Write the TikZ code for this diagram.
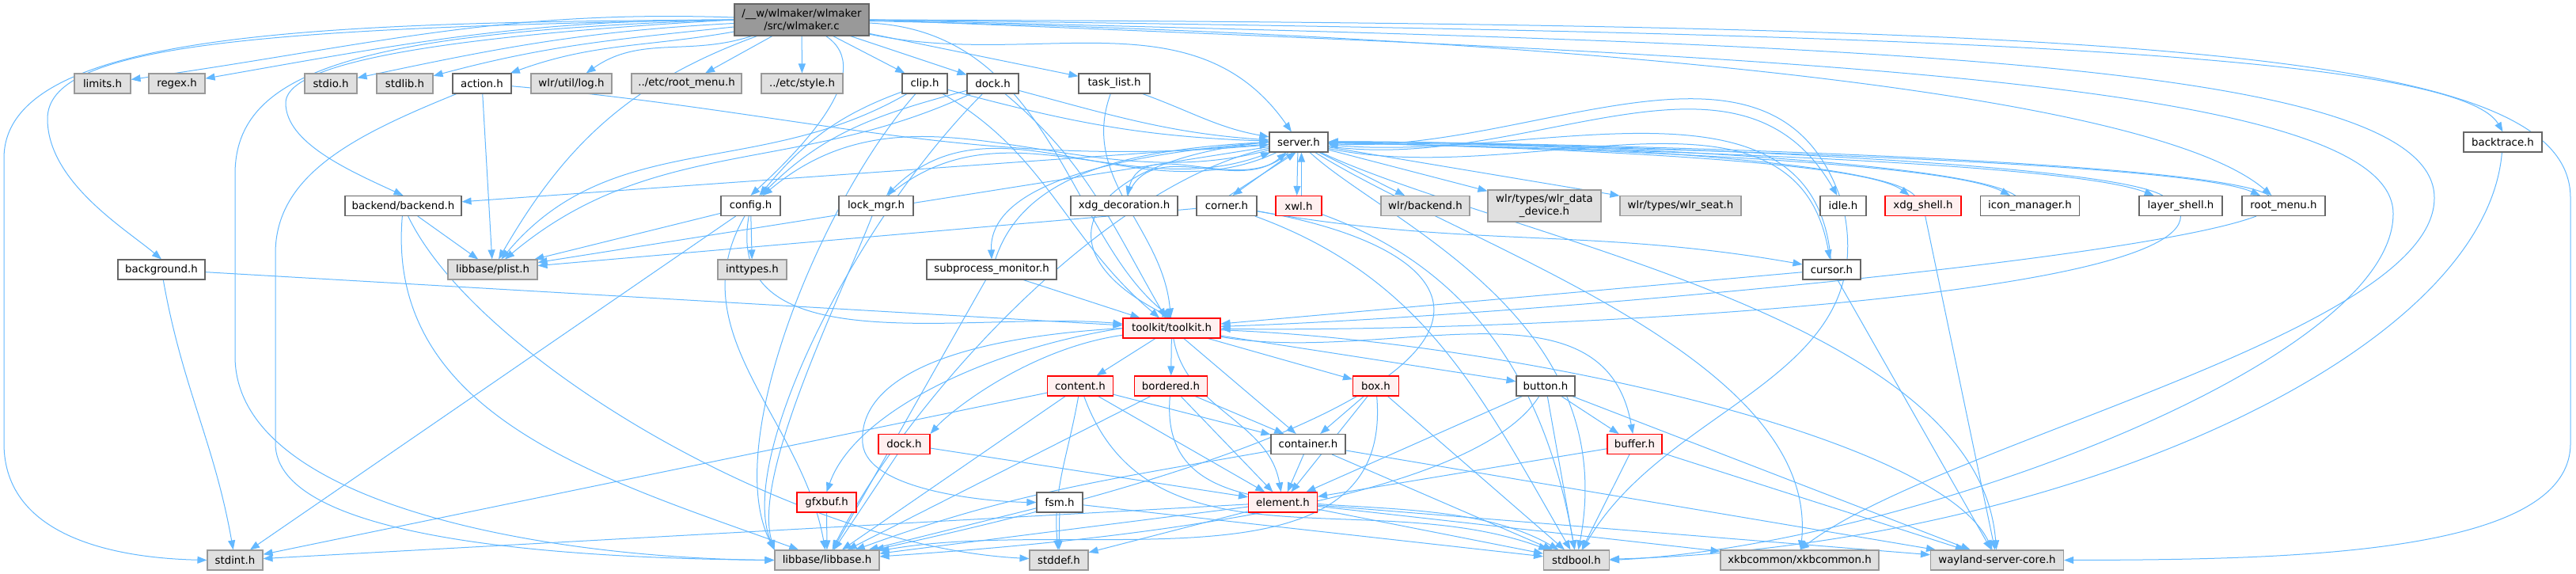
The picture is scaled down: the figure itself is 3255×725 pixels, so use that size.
\documentclass[tikz,border=0pt]{standalone}
\usepackage{fontspec}
\newfontfamily\dxf{DejaVu Sans}
\usetikzlibrary{arrows.meta}
\definecolor{edgec}{HTML}{63B8FF}
\definecolor{gfill}{HTML}{E0E0E0}
\definecolor{gdraw}{HTML}{999999}
\definecolor{wdraw}{HTML}{666666}
\definecolor{rfill}{HTML}{FFF0F0}
\definecolor{rdraw}{HTML}{FF0000}
\definecolor{rootfill}{HTML}{999999}
\pgfdeclarelayer{bg}
\pgfsetlayers{bg,main}
\begin{document}
\begin{tikzpicture}[x=1pt,y=1pt,
  nb/.style={draw, line width=1.1pt, minimum height=25pt, inner sep=0pt, font=\dxf\fontsize{13.33}{16}\selectfont, text=black},
  ng/.style={nb, fill=gfill, draw=gdraw},
  nw/.style={nb, fill=white, draw=wdraw},
  nr/.style={nb, fill=rfill, draw=rdraw},
  nroot/.style={nb, fill=rootfill, draw=wdraw, align=center, minimum height=40pt},
  dep/.style={draw=edgec, line width=1pt, -{Triangle[length=12pt,width=9pt]}},
]
\useasboundingbox (0,0) rectangle (3255,-725);

% ---------- nodes ----------
\node[nroot, minimum width=170pt] (R) at (1013,-25) {/\_\_w/wlmaker/wlmaker\\/src/wlmaker.c};

\node[ng, minimum width=71pt] (limits) at (129.5,-105.5) {limits.h};
\node[ng, minimum width=71pt] (regex) at (223.5,-105.5) {regex.h};
\node[ng, minimum width=66pt] (stdio) at (418,-105.5) {stdio.h};
\node[ng, minimum width=71pt] (stdlib) at (511.5,-105.5) {stdlib.h};
\node[nw, minimum width=74pt] (action) at (609,-105.5) {action.h};
\node[ng, minimum width=102pt] (wlrlog) at (722,-105.5) {wlr/util/log.h};
\node[ng, minimum width=139pt] (etcroot) at (867.5,-105.5) {../etc/root\_menu.h};
\node[ng, minimum width=103pt] (etcstyle) at (1013.5,-105.5) {../etc/style.h};
\node[nw, minimum width=57pt] (clip) at (1168.5,-105.5) {clip.h};
\node[nw, minimum width=65pt] (dock) at (1254.5,-105.5) {dock.h};
\node[nw, minimum width=90pt] (tasklist) at (1408,-105.5) {task\_list.h};

\node[nw, minimum width=74pt] (server) at (1641,-179.5) {server.h};
\node[nw, minimum width=99pt] (backtrace) at (3162.5,-179.5) {backtrace.h};

\node[nw, minimum width=147pt] (backend) at (509.5,-260) {backend/backend.h};
\node[nw, minimum width=75pt] (config) at (948.5,-260) {config.h};
\node[nw, minimum width=94pt] (lockmgr) at (1107,-260) {lock\_mgr.h};
\node[nw, minimum width=135pt] (xdgdeco) at (1420.5,-260) {xdg\_decoration.h};
\node[nw, minimum width=76pt] (corner) at (1550,-260) {corner.h};
\node[nr, minimum width=58pt] (xwl) at (1641,-260) {xwl.h};
\node[ng, minimum width=112pt] (wlrbackend) at (1801,-260) {wlr/backend.h};
\node[ng, minimum width=143pt, minimum height=40pt, align=center] (wlrdata) at (1951.5,-260) {wlr/types/wlr\_data\\\_device.h};
\node[ng, minimum width=153pt] (wlrseat) at (2123.5,-260) {wlr/types/wlr\_seat.h};
\node[nw, minimum width=58pt] (idle) at (2329,-260) {idle.h};
\node[nr, minimum width=96pt] (xdgshell) at (2430,-260) {xdg\_shell.h};
\node[nw, minimum width=125pt] (iconmgr) at (2565,-260) {icon\_manager.h};
\node[nw, minimum width=105pt] (layershell) at (2755.5,-260) {layer\_shell.h};
\node[nw, minimum width=105pt] (rootmenu) at (2885.5,-260) {root\_menu.h};

\node[nw, minimum width=110pt] (background) at (204,-340.5) {background.h};
\node[ng, minimum width=113pt] (plist) at (622.5,-340.5) {libbase/plist.h};
\node[ng, minimum width=87pt] (inttypes) at (950.5,-340.5) {inttypes.h};
\node[nw, minimum width=164pt] (subproc) at (1253,-340.5) {subprocess\_monitor.h};
\node[nw, minimum width=73pt] (cursor) at (2314.5,-340.5) {cursor.h};

\node[nr, minimum width=123pt] (toolkit) at (1480.5,-414.5) {toolkit/toolkit.h};

\node[nr, minimum width=83pt] (content) at (1365,-487.5) {content.h};
\node[nr, minimum width=92pt] (bordered) at (1479.5,-487.5) {bordered.h};
\node[nr, minimum width=58pt] (box) at (1738.5,-487.5) {box.h};
\node[nw, minimum width=74pt] (button) at (1953,-487.5) {button.h};

\node[nr, minimum width=65pt] (tkdock) at (1142.5,-561) {dock.h};
\node[nw, minimum width=94pt] (container) at (1653,-561) {container.h};
\node[nr, minimum width=69pt] (buffer) at (2065.5,-561) {buffer.h};

\node[nr, minimum width=75pt] (gfxbuf) at (1044.5,-634.5) {gfxbuf.h};
\node[nw, minimum width=58pt] (fsm) at (1339,-634.5) {fsm.h};
\node[nr, minimum width=87pt] (element) at (1621,-634.5) {element.h};

\node[ng, minimum width=70pt] (stdint) at (297,-707.5) {stdint.h};
\node[ng, minimum width=132pt] (libbase) at (1045,-707.5) {libbase/libbase.h};
\node[ng, minimum width=74pt] (stddef) at (1338,-707.5) {stddef.h};
\node[ng, minimum width=83pt] (stdbool) at (1992,-707.5) {stdbool.h};
\node[ng, minimum width=200pt] (xkb) at (2274,-707.5) {xkbcommon/xkbcommon.h};
\node[ng, minimum width=168pt] (wayland) at (2523.5,-707.5) {wayland-server-core.h};

% ---------- edges ----------
\begin{pgfonlayer}{bg}
% root
\draw[dep] (R) to[out=178,in=8] (limits);
\draw[dep] (R) to[out=180,in=10] (regex);
\draw[dep] (R) to[out=183,in=12] (stdio);
\draw[dep] (R) to[out=186,in=15] (stdlib);
\draw[dep] (R) to[out=190,in=20] (action);
\draw[dep] (R) to[out=198,in=35] (wlrlog);
\draw[dep] (R) -- (etcroot);
\draw[dep] (R) -- (etcstyle);
\draw[dep] (R) -- (clip);
\draw[dep] (R) -- (dock);
\draw[dep] (R) -- (tasklist);
\draw[dep] (R) to[out=-12,in=125] (server);
\draw[dep] (R.east) .. controls (2300,-40) and (3100,-60) .. (backtrace.north);
\draw[dep] (R) .. controls (1800,-40) and (2700,-100) .. (rootmenu);
\draw[dep] (R.east) .. controls (2700,-30) and (3248,-60) .. (3248,-250) -- (3248,-560) .. controls (3248,-700) and (2900,-707) .. (wayland.east);
\draw[dep] (R.east) .. controls (2300,-55) and (3076,-70) .. (3076,-250) .. controls (3076,-420) and (2450,-560) .. (xkb.north);
\draw[dep] (R.east) .. controls (2200,-70) and (3024,-95) .. (3024,-270) .. controls (3024,-460) and (2400,-690) .. (stdbool.east);
\draw[dep] (R.west) .. controls (400,-28) and (5,-40) .. (5,-200) -- (5,-560) .. controls (5,-680) and (150,-705) .. (stdint.west);
\draw[dep] (R.west) .. controls (300,-35) and (60,-60) .. (60,-150) .. controls (60,-230) and (160,-290) .. (background.north);
\draw[dep] (R.west) .. controls (450,-40) and (297,-90) .. (297,-220) -- (297,-450) .. controls (297,-640) and (700,-705) .. (libbase.west);
\draw[dep] (R.west) .. controls (480,-50) and (361,-90) .. (361,-130) .. controls (361,-180) and (440,-215) .. (backend.north);
\draw[dep] (R) to[out=200,in=60] (plist);
\draw[dep] (R) .. controls (1110,-90) and (1010,-190) .. (config.north);
\draw[dep] (R) .. controls (1330,-40) and (1350,-300) .. (toolkit.north);

% server outgoing
\draw[dep] (server) -- (backend);
\draw[dep] (server) -- (plist);
\draw[dep] (server) to[out=195,in=40] (config);
\draw[dep] (server) to[out=205,in=45] (lockmgr);
\draw[dep] (server) to[out=225,in=75] (xdgdeco);
\draw[dep] (server.240) -- (corner.60);
\draw[dep] (server.265) -- (xwl.100);
\draw[dep] (server) -- (wlrbackend);
\draw[dep] (server) -- (wlrdata);
\draw[dep] (server) -- (wlrseat);
\draw[dep] (server) to[out=-8,in=120] (idle);
\draw[dep] (server) .. controls (1900,-185) and (2350,-200) .. (xdgshell);
\draw[dep] (server) .. controls (1900,-185) and (2450,-200) .. (iconmgr);
\draw[dep] (server) .. controls (1900,-185) and (2600,-200) .. (layershell);
\draw[dep] (server) .. controls (1900,-182) and (2750,-200) .. (rootmenu);
\draw[dep] (server) to[out=-12,in=100] (cursor);
\draw[dep] (server.west) .. controls (1350,-200) and (1250,-250) .. (subproc.north);
\draw[dep] (server.west) .. controls (1380,-200) and (1300,-310) .. (toolkit.north);
\draw[dep] (server) .. controls (1400,-230) and (1150,-500) .. (libbase);
\draw[dep] (server) .. controls (1750,-280) and (2050,-400) .. (stdbool);
\draw[dep] (server) .. controls (1900,-300) and (2500,-400) .. (wayland);
\draw[dep] (server) .. controls (1850,-310) and (2300,-450) .. (xkb);

% server incoming
\draw[dep] (action) to[out=-5,in=185] (server);
\draw[dep] (clip) to[out=-15,in=178] (server);
\draw[dep] (dock) to[out=-15,in=176] (server);
\draw[dep] (tasklist) to[out=-20,in=170] (server);
\draw[dep] (lockmgr) to[out=40,in=200] (server);
\draw[dep] (xdgdeco) to[out=70,in=220] (server);
\draw[dep] (corner.75) -- (server.255);
\draw[dep] (xwl.75) -- (server.285);
\draw[dep] (subproc.70) .. controls (1290,-230) and (1400,-190) .. (server.west);
\draw[dep] (cursor) to[out=95,in=-5] (server);
\draw[dep] (idle) to[out=110,in=-3] (server);
\draw[dep] (xdgshell) .. controls (2380,-200) and (1900,-178) .. (server);
\draw[dep] (iconmgr) .. controls (2480,-200) and (1900,-178) .. (server);
\draw[dep] (layershell) .. controls (2650,-200) and (1900,-178) .. (server);
\draw[dep] (rootmenu) .. controls (2800,-200) and (1900,-178) .. (server);

% action, background, backend
\draw[dep] (action) -- (plist);
\draw[dep] (action) .. controls (450,-170) and (348,-220) .. (348,-320) -- (348,-560) .. controls (348,-680) and (700,-705) .. (libbase.west);
\draw[dep] (background) -- (toolkit);
\draw[dep] (background) to[out=-80,in=100] (stdint);
\draw[dep] (backend) -- (plist);
\draw[dep] (backend) to[out=-95,in=160] (libbase);
\draw[dep] (backend) .. controls (600,-450) and (1000,-690) .. (stddef);

% clip, dock, task list
\draw[dep] (clip) to[out=200,in=50] (config);
\draw[dep] (clip) to[out=210,in=50] (plist);
\draw[dep] (clip) .. controls (1040,-250) and (910,-560) .. (libbase.north west);
\draw[dep] (clip) to[out=-30,in=140] (toolkit);
\draw[dep] (dock) to[out=195,in=45] (config);
\draw[dep] (dock) to[out=205,in=40] (plist);
\draw[dep] (dock) .. controls (1080,-280) and (930,-580) .. (libbase.north west);
\draw[dep] (dock) to[out=-40,in=120] (toolkit);
\draw[dep] (tasklist) to[out=-110,in=95] (toolkit);

% config, lock, subproc
\draw[dep] (config) -- (inttypes);
\draw[dep] (config) -- (plist);
\draw[dep] (config) to[out=-120,in=100] (libbase);
\draw[dep] (config) to[out=-100,in=175] (toolkit);
\draw[dep] (config) -- (stdint);
\draw[dep] (lockmgr) .. controls (1060,-380) and (950,-600) .. (libbase.north west);
\draw[dep] (subproc) -- (toolkit);
\draw[dep] (subproc) -- (libbase);

% corner, cursor, xwl, idle, xdg_shell, root_menu, backtrace
\draw[dep] (corner) -- (plist);
\draw[dep] (corner) to[out=-10,in=170] (cursor);
\draw[dep] (corner) .. controls (1900,-320) and (2000,-500) .. (libbase);
\draw[dep] (corner) to[out=-20,in=120] (stdbool);
\draw[dep] (cursor) -- (toolkit);
\draw[dep] (cursor) -- (wayland);
\draw[dep] (xwl) to[out=-20,in=100] (stdbool);
\draw[dep] (idle) to[out=-80,in=60] (stdbool);
\draw[dep] (xdgshell) -- (wayland);
\draw[dep] (rootmenu) .. controls (2700,-330) and (1900,-400) .. (toolkit);
\draw[dep] (layershell) .. controls (2755,-380) and (1900,-420) .. (toolkit);
\draw[dep] (backtrace) .. controls (3140,-450) and (2600,-690) .. (stdbool);

% toolkit
\draw[dep] (toolkit) -- (content);
\draw[dep] (toolkit) -- (bordered);
\draw[dep] (toolkit) -- (box);
\draw[dep] (toolkit) -- (button);
\draw[dep] (toolkit) -- (container);
\draw[dep] (toolkit) to[out=-10,in=100] (buffer);
\draw[dep] (toolkit) .. controls (1300,-440) and (1200,-520) .. (tkdock.north east);
\draw[dep] (toolkit.west) .. controls (1150,-430) and (1085,-500) .. (1090,-560) .. controls (1095,-620) and (1250,-634) .. (fsm.west);
\draw[dep] (toolkit.west) .. controls (1250,-440) and (1080,-520) .. (gfxbuf.north);
\draw[dep] (toolkit) to[out=-80,in=100] (element);
\draw[dep] (toolkit) .. controls (1900,-430) and (2450,-550) .. (wayland);

% toolkit internals
\draw[dep] (content) -- (container);
\draw[dep] (content) -- (element);
\draw[dep] (content) -- (libbase);
\draw[dep] (content) to[out=-100,in=95] (stddef);
\draw[dep] (content) to[out=-70,in=160] (stdbool);
\draw[dep] (content) -- (stdint);
\draw[dep] (bordered) -- (container);
\draw[dep] (bordered) -- (element);
\draw[dep] (bordered) -- (libbase);
\draw[dep] (bordered) to[out=-95,in=150] (stdbool);
\draw[dep] (box) -- (container);
\draw[dep] (box) -- (element);
\draw[dep] (box) to[out=-85,in=10] (libbase);
\draw[dep] (box) -- (stdbool);
\draw[dep] (button) -- (buffer);
\draw[dep] (button) -- (element);
\draw[dep] (button) .. controls (1850,-650) and (1300,-690) .. (libbase);
\draw[dep] (button) -- (stdbool);
\draw[dep] (button) -- (wayland);
\draw[dep] (tkdock) -- (element);
\draw[dep] (tkdock) -- (libbase);
\draw[dep] (container) -- (element);
\draw[dep] (container) to[out=190,in=20] (libbase);
\draw[dep] (container) -- (stdbool);
\draw[dep] (container) -- (wayland);
\draw[dep] (buffer) -- (element);
\draw[dep] (buffer) -- (stdbool);
\draw[dep] (buffer) -- (wayland);
\draw[dep] (fsm) -- (stddef);
\draw[dep] (fsm) -- (stdbool);
\draw[dep] (fsm) -- (libbase);
\draw[dep] (element) -- (libbase);
\draw[dep] (element) -- (stddef);
\draw[dep] (element) -- (stdbool);
\draw[dep] (element) -- (stdint);
\draw[dep] (element) -- (wayland);
\draw[dep] (element) -- (xkb);
\draw[dep] (gfxbuf) -- (libbase);
\end{pgfonlayer}
\end{tikzpicture}
\end{document}
